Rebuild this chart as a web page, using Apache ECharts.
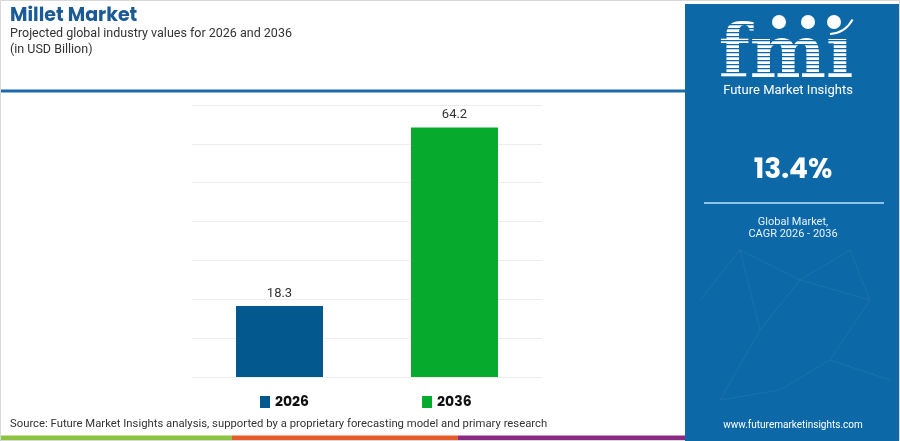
<!DOCTYPE html>
<html><head><meta charset="utf-8">
<script src="https://cdn.jsdelivr.net/npm/echarts@6/dist/echarts.min.js"></script>
<style>html,body{margin:0;padding:0;background:#fff}#c{width:900px;height:441px}</style>
</head><body><div id="c"></div>
<script>
const categories = ['2026', '2036'];
const values2026 = [18.3, null];
const values2036 = [null, 64.2];
const yTicks = [0, 10, 20, 30, 40, 50, 60, 70];
const cagrText = '13.4%';

const chart = echarts.init(document.getElementById('c'));
const blue = '#0d68a8';
const stripes = [];
for (let y = 24; y < 76; y += 4) {
  stripes.push({type:'rect', shape:{x:716, y:y, width:140, height:1.3}, style:{fill:blue}, z:12});
}
const net = [];
const pts = [[700,300],[740,250],[760,330],[800,280],[830,360],[870,300],[890,380],[720,400],[780,390],[850,250]];
const links = [[0,1],[1,3],[2,3],[3,5],[4,5],[4,6],[2,7],[7,8],[8,4],[5,9],[3,9],[1,2]];
links.forEach(l => net.push({type:'line', shape:{x1:pts[l[0]][0], y1:pts[l[0]][1], x2:pts[l[1]][0], y2:pts[l[1]][1]}, style:{stroke:'rgba(255,255,255,0.06)', lineWidth:1}, z:2}));

chart.setOption({
  animation:false,
  grid:{left:192, right:358, top:105, bottom:64},
  xAxis:{type:'category', data:categories, axisLine:{show:false}, axisTick:{show:false}, axisLabel:{show:false}},
  yAxis:{type:'value', min:yTicks[0], max:yTicks[yTicks.length-1], interval:10, axisLabel:{show:false}, axisLine:{show:false}, axisTick:{show:false}, splitLine:{lineStyle:{color:'#eeeeee'}}},
  legend:{left:255, top:390, itemWidth:10, itemHeight:12, itemGap:113, icon:'rect',
    textStyle:{fontFamily:'Poppins, Roboto, sans-serif', fontWeight:'bold', fontSize:14, color:'#111'},
    data:['2026','2036']},
  series:[
    {name:'2026', type:'bar', data:values2026, barWidth:87, barGap:'-100%', itemStyle:{color:'#03588d'},
     label:{show:true, position:'top', distance:6, fontFamily:'Roboto, sans-serif', fontSize:13, color:'#333'}},
    {name:'2036', type:'bar', data:values2036, barWidth:87, itemStyle:{color:'#06ab2e'},
     label:{show:true, position:'top', distance:6, fontFamily:'Roboto, sans-serif', fontSize:13, color:'#333'}}
  ],
  graphic:[
    {type:'rect', shape:{x:0.5, y:0.5, width:899, height:440}, style:{fill:'none', stroke:'#d8d8d8', lineWidth:1}, z:1},
    {type:'text', left:10, top:7, style:{text:'Millet Market', fontFamily:'Poppins, Roboto, sans-serif', fontWeight:'bold', fontSize:19, fill:'#1a5a96'}},
    {type:'text', left:10, top:27, style:{text:'Projected global industry values for 2026 and 2036', fontFamily:'Roboto, sans-serif', fontSize:12.5, fill:'#333'}},
    {type:'text', left:10, top:43, style:{text:'(in USD Billion)', fontFamily:'Roboto, sans-serif', fontSize:12.5, fill:'#333'}},
    {type:'rect', shape:{x:0, y:89.5, width:686, height:3}, style:{fill:'#1c6aab'}},
    {type:'text', left:10, top:419, style:{text:'Source: Future Market Insights analysis, supported by a proprietary forecasting model and primary research', fontFamily:'Roboto, sans-serif', fontSize:11.3, fill:'#333'}},
    {type:'rect', shape:{x:0, y:435.5, width:232, height:5.5}, style:{fill:'#8cc43f'}},
    {type:'rect', shape:{x:232, y:435.5, width:226, height:5.5}, style:{fill:'#ea5b2a'}},
    {type:'rect', shape:{x:458, y:435.5, width:228, height:5.5}, style:{fill:'#8a2a85'}},
    {type:'rect', shape:{x:685, y:4, width:214, height:437}, style:{fill:blue}, z:1},
    ...net,
    {type:'text', x:786, y:58, style:{text:'fmı', fontFamily:'DejaVu Serif', fontWeight:'bold', fontSize:72, fill:'#fff', align:'center', verticalAlign:'middle'}, z:11},
    ...stripes,
    {type:'circle', shape:{cx:779, cy:22, r:7}, style:{fill:'#fff'}, z:13},
    {type:'circle', shape:{cx:808, cy:22, r:7}, style:{fill:'#fff'}, z:13},
    {type:'circle', shape:{cx:834, cy:22, r:7}, style:{fill:'#fff'}, z:13},
    {type:'arc', shape:{cx:828, cy:6, r:28, startAngle:0.5, endAngle:1.5}, style:{stroke:'#fff', lineWidth:2, fill:'none'}, z:13},
    {type:'text', x:788, y:91, style:{text:'Future Market Insights', fontFamily:'Roboto, sans-serif', fontSize:13, fill:'#fff', align:'center', verticalAlign:'middle'}, z:13},
    {type:'text', x:793, y:171, style:{text:cagrText, fontFamily:'Poppins, Roboto, sans-serif', fontWeight:'bold', fontSize:28, fill:'#fff', align:'center', verticalAlign:'middle'}, z:13},
    {type:'rect', shape:{x:704, y:202, width:180, height:2}, style:{fill:'#8ec3ea'}, z:13},
    {type:'text', x:793, y:222, style:{text:'Global Market,', fontFamily:'Roboto, sans-serif', fontSize:11, fill:'#e8f2fa', align:'center', verticalAlign:'middle'}, z:13},
    {type:'text', x:793, y:234, style:{text:'CAGR 2026 - 2036', fontFamily:'Roboto, sans-serif', fontSize:11, fill:'#e8f2fa', align:'center', verticalAlign:'middle'}, z:13},
    {type:'text', x:793, y:425, style:{text:'www.futuremarketinsights.com', fontFamily:'Roboto, sans-serif', fontSize:10, fill:'#fff', align:'center', verticalAlign:'middle'}, z:13}
  ]
});
</script></body></html>
